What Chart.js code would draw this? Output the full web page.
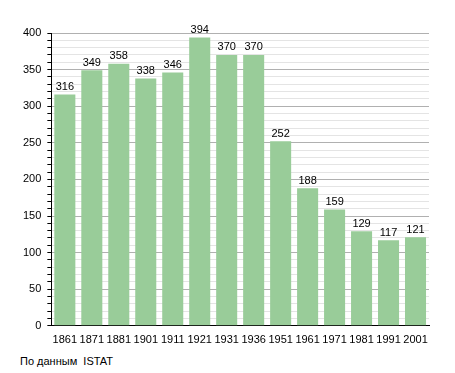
<!DOCTYPE html>
<html>
<head>
<meta charset="utf-8">
<script src="https://cdn.jsdelivr.net/npm/chart.js@4"></script>
<style>
  body { margin: 0; background: #fff; font-family: "Liberation Sans", Arial, sans-serif; }
  #wrap { position: relative; width: 455px; height: 373px; }
  #box { position: absolute; left: 0; top: 0; width: 455px; height: 347px; }
  #src { position: absolute; left: 20px; top: 355px; font-size: 11px; color: #000; }
</style>
</head>
<body>
<div id="wrap">
  <div id="box"><canvas id="pop"></canvas></div>
  <div id="src">По данным&nbsp; ISTAT</div>
</div>
<script>
// census years and population
const years = ['1861', '1871', '1881', '1901', '1911', '1921', '1931', '1936', '1951', '1961', '1971', '1981', '1991', '2001'];
const population = [316, 349, 358, 338, 346, 394, 370, 370, 252, 188, 159, 129, 117, 121];
const yMax = 400;

// numbers above each bar
const barLabels = {
    id: 'barLabels',
    afterDatasetsDraw(chart) {
        const ctx = chart.ctx;
        const meta = chart.getDatasetMeta(0);
        ctx.save();
        ctx.font = '11px "Liberation Sans", Arial, sans-serif';
        ctx.fillStyle = '#000';
        ctx.textAlign = 'center';
        ctx.textBaseline = 'bottom';
        meta.data.forEach((bar, i) => {
            ctx.fillText(population[i], bar.x, bar.y - 2);
        });
        ctx.restore();
    }
};

const ctx = document.getElementById('pop').getContext('2d');
new Chart(ctx, {
    type: 'bar',
    data: {
        labels: years,
        datasets: [{
            data: population,
            backgroundColor: '#99cc99',
            borderWidth: 0,
            barPercentage: 0.78,
            categoryPercentage: 1
        }]
    },
    options: {
        responsive: true,
        maintainAspectRatio: false,
        animation: false,
        layout: { padding: { top: 33, right: 26, left: 17, bottom: 0 } },
        plugins: { legend: { display: false }, tooltip: { enabled: false } },
        scales: {
            x: {
                grid: { display: false },
                border: { color: '#000', width: 1 },
                ticks: { color: '#000', font: { size: 11, family: '"Liberation Sans", Arial, sans-serif' }, padding: 0, maxRotation: 0, autoSkip: false }
            },
            y: {
                min: 0,
                max: yMax,
                grid: {
                    color: c => c.tick.value % 50 === 0 ? '#b0b0b0' : '#e4e4e4',
                    tickColor: '#000',
                    tickLength: 4
                },
                border: { color: '#000', width: 1 },
                ticks: {
                    stepSize: 10,
                    autoSkip: false,
                    color: '#000',
                    padding: 6,
                    font: { size: 11, family: '"Liberation Sans", Arial, sans-serif' },
                    callback: v => v % 50 === 0 ? v : ''
                }
            }
        }
    },
    plugins: [barLabels]
});
</script>
</body>
</html>
